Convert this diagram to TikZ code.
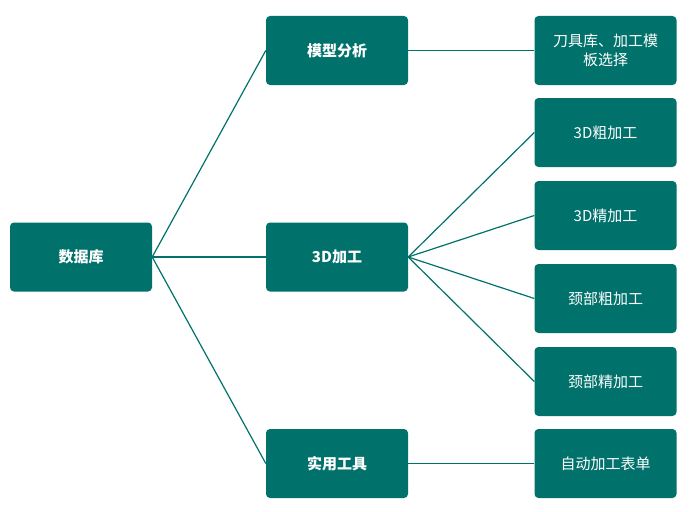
\documentclass[tikz,border=0pt]{standalone}
\usepackage{fontspec}
\setmainfont{Noto Sans CJK SC}
\newfontfamily\cjkb{Noto Sans CJK SC Bold}
\definecolor{teal1}{HTML}{00716B}
\begin{document}
\begin{tikzpicture}[x=1pt,y=-1pt,
 bx/.style={fill=teal1,rounded corners=4pt,minimum width=142pt,minimum height=69pt,text=white,align=center,inner sep=2pt,font=\fontsize{15}{19}\selectfont},
 bb/.style={bx,font=\fontsize{15}{19}\selectfont\bfseries},
 ln/.style={draw=teal1,line width=1.2pt}]
\useasboundingbox (0,0) rectangle (695,511);
\node[bb] (db) at (81,257) {数据库};
\node[bb] (mx) at (337,50.5) {模型分析};
\node[bb] (d3) at (337,257) {3D加工};
\node[bb] (sy) at (337,463.5) {实用工具};
\node[bx,text width=138pt] (r1) at (605.5,50.5) {刀具库、加工模\\板选择};
\node[bx] (r2) at (605.5,132.5) {3D粗加工};
\node[bx] (r3) at (605.5,215.5) {3D精加工};
\node[bx] (r4) at (605.5,298.5) {颈部粗加工};
\node[bx] (r5) at (605.5,381.5) {颈部精加工};
\node[bx] (r6) at (605.5,463.5) {自动加工表单};
\foreach \t in {mx,d3,sy} \draw[ln] (db.east) -- (\t.west);
\foreach \t in {r2,r3,r4,r5} \draw[ln] (d3.east) -- (\t.west);
\draw[ln] (mx.east) -- (r1.west);
\draw[ln] (sy.east) -- (r6.west);
\end{tikzpicture}
\end{document}
